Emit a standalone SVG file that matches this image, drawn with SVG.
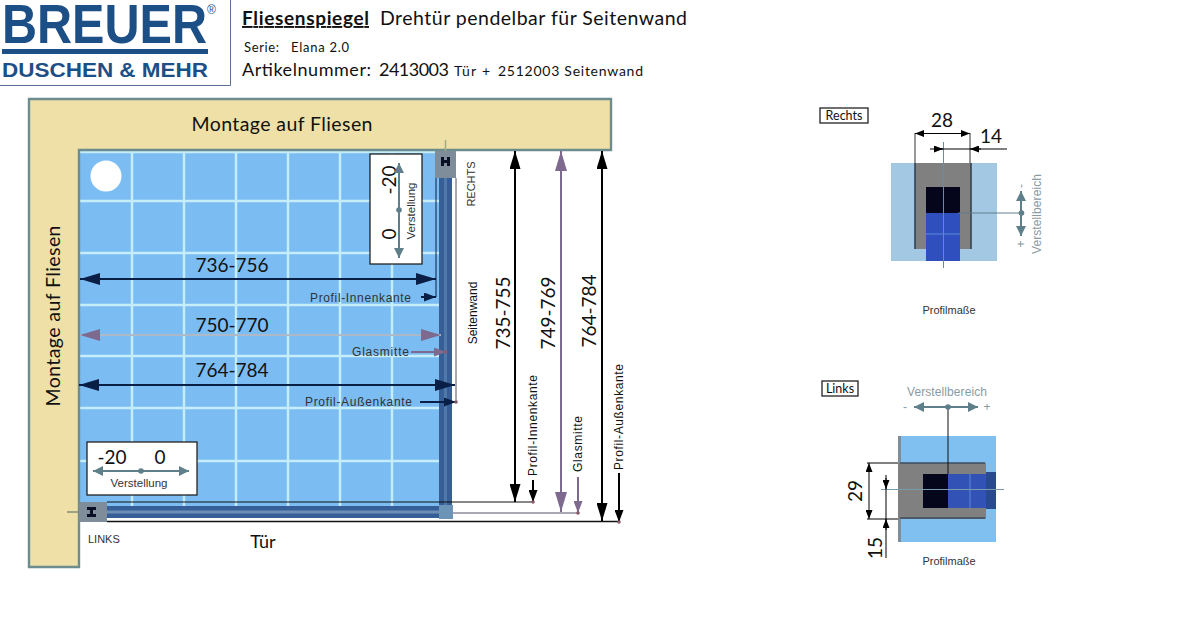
<svg xmlns="http://www.w3.org/2000/svg" width="1184" height="623" viewBox="0 0 1184 623">
<style>
.c{font-family:"Lato","Open Sans","Liberation Sans",sans-serif;fill:#111}
.a{font-family:"Liberation Sans","Arial",sans-serif;fill:#333}
.g{fill:#8a9aa2}
.m{text-anchor:middle}
.k{stroke:#000;stroke-width:2;fill:none}
.n{stroke:#0a1f45;stroke-width:2;fill:none}
.p{stroke:#7d6a8e;stroke-width:2;fill:none}
.t{stroke:#aeb9c8;stroke-width:2;fill:none}
.s{stroke:#5f7f8a;stroke-width:2;fill:none}
.b{fill:#fff;stroke:#222;stroke-width:1.3}
.gr{stroke:#c6eefa;stroke-width:2.4;fill:none}
.lg{font-family:"Liberation Sans","Arial",sans-serif;font-weight:700;fill:#1d4f87}
</style>
<defs>
<marker id="hk" markerUnits="userSpaceOnUse" markerWidth="18" markerHeight="11" refX="18" refY="5.500" orient="auto-start-reverse"><path d="M0 0L18 5.500L0 11Z" fill="#000"/></marker>
<marker id="hn" markerUnits="userSpaceOnUse" markerWidth="20" markerHeight="12" refX="20" refY="6" orient="auto-start-reverse"><path d="M0 0L20 6L0 12Z" fill="#0a1f45"/></marker>
<marker id="hp" markerUnits="userSpaceOnUse" markerWidth="20" markerHeight="12" refX="20" refY="6" orient="auto-start-reverse"><path d="M0 0L20 6L0 12Z" fill="#7d6a8e"/></marker>
<marker id="hs" markerUnits="userSpaceOnUse" markerWidth="12" markerHeight="9" refX="12" refY="4.500" orient="auto-start-reverse"><path d="M0 0L12 4.500L0 9Z" fill="#0a1f45"/></marker>
<marker id="hsk" markerUnits="userSpaceOnUse" markerWidth="12" markerHeight="9" refX="12" refY="4.500" orient="auto-start-reverse"><path d="M0 0L12 4.500L0 9Z" fill="#000"/></marker>
<marker id="hsp" markerUnits="userSpaceOnUse" markerWidth="12" markerHeight="9" refX="12" refY="4.500" orient="auto-start-reverse"><path d="M0 0L12 4.500L0 9Z" fill="#7d6a8e"/></marker>
<marker id="ht" markerUnits="userSpaceOnUse" markerWidth="10" markerHeight="10" refX="10" refY="5" orient="auto-start-reverse"><path d="M0 0L10 5L0 10Z" fill="#5f7f8a"/></marker>
<marker id="hd" markerUnits="userSpaceOnUse" markerWidth="9" markerHeight="7" refX="9" refY="3.500" orient="auto-start-reverse"><path d="M0 0L9 3.500L0 7Z" fill="#000"/></marker>
</defs>

<g id="logo">
<path d="M0 85.500H230.500V0" fill="none" stroke="#5a6f95" stroke-width="1"/>
<text class="lg" x="2" y="43" font-size="56" textLength="205" lengthAdjust="spacingAndGlyphs">BREUER</text>
<text class="lg" x="207" y="14" font-size="12" style="font-weight:400">®</text>
<rect x="2" y="49" width="206" height="5" fill="#1d4f87"/>
<text class="lg" x="2" y="77" font-size="21" textLength="206" lengthAdjust="spacingAndGlyphs">DUSCHEN &amp; MEHR</text>
</g>

<g id="titel">
<text class="c" x="242" y="25" font-size="19" font-weight="700" text-decoration="underline" textLength="127">Fliesenspiegel</text>
<text class="c" x="380" y="25" font-size="19.500" textLength="307">Drehtür pendelbar für Seitenwand</text>
<text class="c" x="244" y="52" font-size="13" textLength="35">Serie:</text>
<text class="c" x="291" y="52" font-size="13" textLength="58">Elana 2.0</text>
<text class="c" x="242" y="76" font-size="18" textLength="129">Artikelnummer:</text>
<text class="c" x="379" y="76" font-size="18" textLength="70">2413003</text>
<text class="c" x="454" y="76" font-size="14" textLength="22">Tür</text>
<text class="c" x="482" y="76" font-size="14">+</text>
<text class="c" x="498" y="76" font-size="14" textLength="145">2512003 Seitenwand</text>
</g>

<g id="fliesen">
<rect x="80" y="151" width="360" height="366" fill="#7bbdf3"/>
<path class="gr" d="M132 151V517M184 151V517M236 151V517M288 151V517M340 151V517M392 151V517M80 152H440M80 201H440M80 253H440M80 305H440M80 356H440M80 408H440M80 461H440"/>
<circle cx="106" cy="176" r="15.500" fill="#fff"/>
</g>

<g id="wand">
<path d="M29 99H611V150H79V567H29Z" fill="#efe0a8" stroke="#6d8c8e" stroke-width="2.400"/>
<text class="c m" x="282" y="131" font-size="19.500" textLength="181">Montage auf Fliesen</text>
<text class="c m" transform="translate(60 316) rotate(-90)" font-size="19.500" textLength="181">Montage auf Fliesen</text>
</g>

<g id="profil-seitenwand">
<rect x="439" y="170" width="13" height="345" fill="#375f97"/>
<rect x="444" y="178" width="3" height="330" fill="#5078a8"/>
<rect x="435" y="151" width="21" height="27" fill="#7f8c9a"/>
<path d="M441 157h3v3h3v-3h3v9h-3v-3h-3v3h-3z" fill="#0a0f25"/>
<path d="M445.500 140V151" stroke="#a0ad80" stroke-width="1.500"/>
</g>

<g id="profil-tuer">
<rect x="80" y="506" width="360" height="12" fill="#375f97"/>
<rect x="100" y="510.500" width="340" height="3" fill="#6d8fb5"/>
<rect x="79" y="502" width="28" height="20" fill="#7f8c9a"/>
<path d="M87 507h9v3h-3v4h3v3h-9v-3h3v-4h-3z" fill="#0a0f25"/>
<path d="M67 512H79" stroke="#7f8c7a" stroke-width="1.500"/>
<rect x="439" y="505" width="14" height="14" fill="#6c94b6"/>
</g>

<g id="verstellung-rechts">
<rect class="b" x="370" y="154" width="52" height="110"/>
<text class="c m" transform="translate(396 180) rotate(-90)" font-size="19">-20</text>
<text class="c m" transform="translate(396 234) rotate(-90)" font-size="19">0</text>
<path class="s" d="M399 163V258" marker-start="url(#ht)" marker-end="url(#ht)"/>
<circle cx="399" cy="210" r="2.800" fill="#5f7f8a"/>
<text class="a m" transform="translate(415 211) rotate(-90)" font-size="11.500">Verstellung</text>
</g>

<g id="verstellung-links">
<rect class="b" x="87" y="442" width="110" height="53"/>
<text class="c m" x="112" y="464" font-size="19">-20</text>
<text class="c m" x="160" y="464" font-size="19">0</text>
<path class="s" d="M93 471H189" marker-start="url(#ht)" marker-end="url(#ht)"/>
<circle cx="141" cy="471" r="2.800" fill="#5f7f8a"/>
<text class="a m" x="139" y="487" font-size="11.500">Verstellung</text>
</g>

<g id="connectors">
<path d="M80 279H436" class="n" marker-start="url(#hn)" marker-end="url(#hn)"/>
<path d="M80 335H441" class="t" marker-start="url(#hp)" marker-end="url(#hp)"/>
<path d="M79 385H455" class="n" marker-start="url(#hn)" marker-end="url(#hn)"/>
<path d="M436 178V297" stroke="#0a1f45" stroke-width="1"/>
<path d="M456 178V403" stroke="#555" stroke-width="1"/>
<path d="M421 297H436" class="n" marker-end="url(#hs)"/>
<path d="M411 352H446" class="p" marker-end="url(#hsp)"/>
<path d="M420 402H456" class="n" marker-end="url(#hs)"/>
<circle cx="446" cy="352" r="1.800" fill="#8a5a6a"/>
<circle cx="456" cy="402" r="1.800" fill="#8a5a6a"/>
<path d="M107 502H533" stroke="#111" stroke-width="1"/>
<path d="M453 513H578" stroke="#8f8a9a" stroke-width="1.300"/>
<path d="M107 521.500H620" stroke="#111" stroke-width="1.300"/>
<path d="M515 151V502" class="k" marker-start="url(#hk)" marker-end="url(#hk)"/>
<path d="M561 151V512" class="p" marker-start="url(#hp)" marker-end="url(#hp)"/>
<path d="M602 151V521" class="k" marker-start="url(#hk)" marker-end="url(#hk)"/>
<path d="M533 480V502" class="k" marker-end="url(#hsk)"/>
<path d="M578 477V513" class="p" marker-end="url(#hsp)"/>
<path d="M619 473V522" class="k" marker-end="url(#hsk)"/>
<circle cx="533" cy="502" r="1.800" fill="#8a5a6a"/>
<circle cx="578" cy="513" r="1.800" fill="#8a5a6a"/>
<circle cx="619" cy="522" r="1.800" fill="#8a5a6a"/>
</g>

<g id="labels">
<text class="c m" x="232" y="272" font-size="19">736-756</text>
<text class="c m" x="232" y="332" font-size="19">750-770</text>
<text class="c m" x="232" y="377" font-size="19">764-784</text>
<text class="a" x="310" y="302" font-size="12" textLength="101">Profil-Innenkante</text>
<text class="a" x="352" y="356" font-size="12" textLength="57">Glasmitte</text>
<text class="a" x="305" y="406" font-size="12" textLength="107">Profil-Außenkante</text>
<text class="a m" transform="translate(475 184) rotate(-90)" font-size="11">RECHTS</text>
<text class="a m" style="fill:#111" transform="translate(477 313) rotate(-90)" font-size="12">Seitenwand</text>
<text class="c m" transform="translate(510 313) rotate(-90)" font-size="19">735-755</text>
<text class="c m" transform="translate(555 313) rotate(-90)" font-size="19">749-769</text>
<text class="c m" transform="translate(596 311) rotate(-90)" font-size="19">764-784</text>
<text class="a" style="fill:#111" transform="translate(537 476) rotate(-90)" font-size="12" textLength="101">Profil-Innenkante</text>
<text class="a" style="fill:#111" transform="translate(582 472) rotate(-90)" font-size="12" textLength="56">Glasmitte</text>
<text class="a" style="fill:#111" transform="translate(623 470) rotate(-90)" font-size="12" textLength="106">Profil-Außenkante</text>
<text class="a" x="88" y="543" font-size="11">LINKS</text>
<text class="c m" x="263" y="548" font-size="18">Tür</text>
</g>

<g id="detail-rechts">
<rect class="b" x="820" y="108" width="48" height="15"/>
<text class="c m" x="844" y="120" font-size="12.500">Rechts</text>
<rect x="891" y="163" width="106" height="98" fill="#a3c8e3"/>
<rect x="915" y="163" width="56" height="86" fill="#808080"/>
<path d="M915 249V163M971 249V163" stroke="#2c3c4c" stroke-width="1.500"/>
<rect x="926" y="187" width="34" height="26" fill="#05051c"/>
<rect x="926" y="213" width="34" height="48" fill="#2f4fbf"/>
<path d="M926 234H960" stroke="#5a8ad8"/>
<path d="M943.500 142V268" stroke="#6a8aa8" stroke-width="1"/>
<path d="M915 133V163M970 133V163" stroke="#333" stroke-width="1"/>
<text class="c m" x="942" y="127" font-size="19">28</text>
<text class="c m" x="991" y="143" font-size="19">14</text>
<path d="M915 133.500H970" stroke="#000" marker-start="url(#hd)" marker-end="url(#hd)"/>
<path d="M930 149H1007" stroke="#000"/>
<path d="M934 149H943" stroke="#000" marker-end="url(#hd)"/>
<path d="M981 149H970" stroke="#000" marker-end="url(#hd)"/>
<path d="M958 213H1021" stroke="#5f7f8a"/>
<path class="s" d="M1021 191V236" marker-start="url(#ht)" marker-end="url(#ht)"/>
<circle cx="1021.500" cy="213" r="2.800" fill="#5f7f8a"/>
<text class="a g m" transform="translate(1025 186) rotate(-90)" font-size="12">-</text>
<text class="a g m" transform="translate(1025 244) rotate(-90)" font-size="12">+</text>
<text class="a g m" transform="translate(1041 214) rotate(-90)" font-size="12" textLength="80">Verstellbereich</text>
<text class="a m" x="949" y="314" font-size="11">Profilmaße</text>
</g>

<g id="detail-links">
<rect class="b" x="822" y="381" width="36" height="15"/>
<text class="c m" x="840" y="393" font-size="12.500">Links</text>
<text class="a g m" x="947" y="396" font-size="12" textLength="80">Verstellbereich</text>
<rect x="898" y="436" width="98" height="106" fill="#7fc0f0"/>
<rect x="898" y="436" width="3" height="106" fill="#7f8c9a"/>
<rect x="898" y="463" width="88" height="56" fill="#808080"/>
<path d="M900 463H985M900 518H985" stroke="#3c4c5c" stroke-width="1.500"/>
<rect x="986" y="472" width="10" height="37" fill="#2a4a90"/>
<rect x="923" y="474" width="25" height="34" fill="#05051c"/>
<rect x="948" y="474" width="38" height="34" fill="#3352b5"/>
<path d="M970 474V508" stroke="#5a8ad8"/>
<path d="M881 489.500H1004" stroke="#7a9ab0"/>
<path d="M948 407V474" stroke="#111"/>
<text class="a g m" x="905" y="411" font-size="12">-</text>
<text class="a g m" x="987" y="411" font-size="12">+</text>
<path class="s" d="M914 407H978" marker-start="url(#ht)" marker-end="url(#ht)"/>
<circle cx="948" cy="407" r="2.800" fill="#5f7f8a"/>
<path d="M867 463H898M867 519H898" stroke="#000" stroke-width="1"/>
<path d="M869 463V519" stroke="#000" marker-start="url(#hd)" marker-end="url(#hd)"/>
<path d="M886 475V558" stroke="#000"/>
<path d="M886 478V489" stroke="#000" marker-end="url(#hd)"/>
<path d="M886 530V519" stroke="#000" marker-end="url(#hd)"/>
<text class="c m" transform="translate(862 491) rotate(-90)" font-size="19">29</text>
<text class="c m" transform="translate(882 548) rotate(-90)" font-size="19">15</text>
<text class="a m" x="949" y="565" font-size="11">Profilmaße</text>
</g>
</svg>
